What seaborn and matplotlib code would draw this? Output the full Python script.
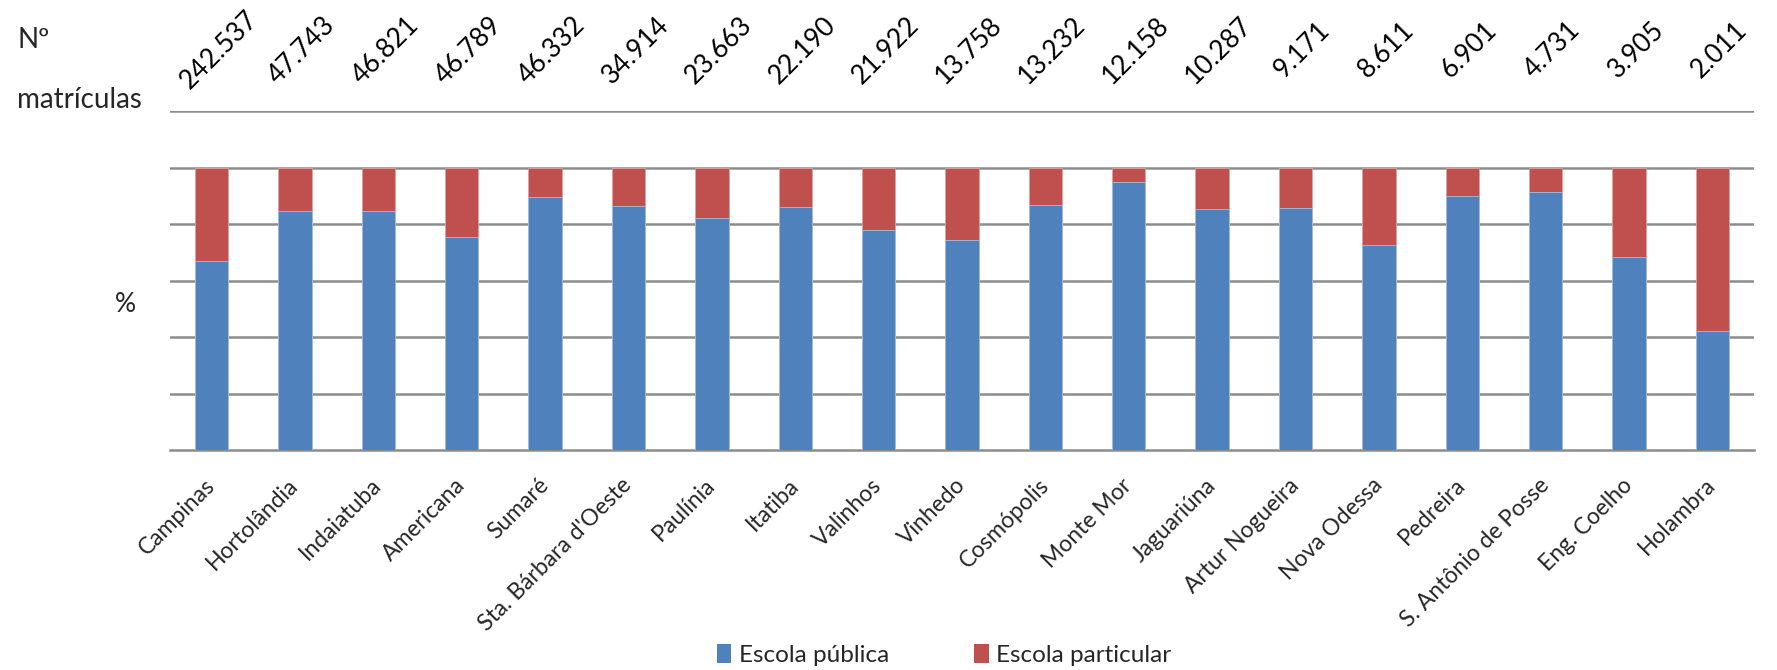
import numpy as np
import pandas as pd
import matplotlib
matplotlib.use("Agg")
import matplotlib.pyplot as plt
import matplotlib.transforms as mtransforms
from matplotlib.patches import Patch
import seaborn as sns

cities = ["Campinas", "Hortolândia", "Indaiatuba", "Americana", "Sumaré",
          "Sta. Bárbara d'Oeste", "Paulínia", "Itatiba", "Valinhos", "Vinhedo",
          "Cosmópolis", "Monte Mor", "Jaguariúna", "Artur Nogueira", "Nova Odessa",
          "Pedreira", "S. Antônio de Posse", "Eng. Coelho", "Holambra"]
matriculas = [242537, 47743, 46821, 46789, 46332, 34914, 23663, 22190, 21922, 13758,
              13232, 12158, 10287, 9171, 8611, 6901, 4731, 3905, 2011]
publica = [66.8, 84.5, 84.5, 75.3, 89.4, 86.2, 82.0, 86.0, 77.9, 74.2,
           86.6, 94.7, 85.2, 85.8, 72.5, 89.8, 91.4, 68.2, 42.1]
total = [100.0] * len(cities)

BLUE = "#4F81BD"
RED = "#C0504D"
GRID = "#8c8c8c"

sns.set_theme(style="white")
plt.rcParams["font.family"] = ["Lato", "DejaVu Sans"]

df = pd.DataFrame({"cidade": cities, "publica": publica, "total": total})

fig = plt.figure(figsize=(17.77, 6.70), dpi=100)
ax = fig.add_axes([170/1777, 1-450/670, (1754-170)/1777, (450-111)/670])

sns.barplot(data=df, x="cidade", y="total", color=RED, width=0.4, ax=ax,
            saturation=1, edgecolor="#d9a3a2", linewidth=0.6, zorder=3)
sns.barplot(data=df, x="cidade", y="publica", color=BLUE, width=0.4, ax=ax,
            saturation=1, edgecolor="#a9bfdc", linewidth=0.6, zorder=3)

n = len(cities)
ax.set_xlim(-0.5, n - 0.5)
ax.set_ylim(0, 120)
ax.set_yticks(np.arange(20, 121, 20))
ax.yaxis.grid(True, color=GRID, linewidth=1.8, zorder=0)
ax.set_axisbelow(True)
ax.tick_params(axis="y", left=False, labelleft=False)
for s in ["left", "right", "top"]:
    ax.spines[s].set_visible(False)
ax.spines["bottom"].set_color(GRID)
ax.spines["bottom"].set_linewidth(1.8)
ax.set_xlabel("")
ax.set_ylabel("")

ax.set_xticks(np.arange(n))
ax.set_xticks(np.arange(-0.5, n, 1), minor=True)
ax.tick_params(axis="x", which="major", length=0, pad=23)
ax.tick_params(axis="x", which="minor", length=8, width=1.5, color=GRID, direction="out")
ax.set_xticklabels(cities, rotation=45, ha="right", va="center",
                   rotation_mode="anchor", fontsize=16.5)

# Nº matrículas values above bars
trans = mtransforms.blended_transform_factory(ax.transData, fig.transFigure)
trans = mtransforms.offset_copy(trans, fig=fig, x=7, y=0, units="dots")
for i, v in enumerate(matriculas):
    lab = f"{v:,}".replace(",", ".")
    ax.text(i, 1 - 50/670, lab, transform=trans, rotation=45, ha="center",
            va="center", fontsize=19, color="black")

fig.text(17/1777, 1 - 40/670, "Nº", ha="left", va="center", fontsize=20)
fig.text(17/1777, 1 - 100/670, "matrículas", ha="left", va="center", fontsize=20)
fig.text(125/1777, 1 - 304/670, "%", ha="center", va="center", fontsize=19)

handles = [Patch(facecolor=BLUE, edgecolor="none", label="Escola pública"),
           Patch(facecolor=RED, edgecolor="none", label="Escola particular")]
fig.legend(handles=handles, loc="center", bbox_to_anchor=(944/1777, 1 - 655/670),
           ncol=2, frameon=False, fontsize=17.5, handlelength=0.6, handleheight=0.8,
           handletextpad=0.3, columnspacing=3.5)

fig.savefig("out.png", dpi=100)
